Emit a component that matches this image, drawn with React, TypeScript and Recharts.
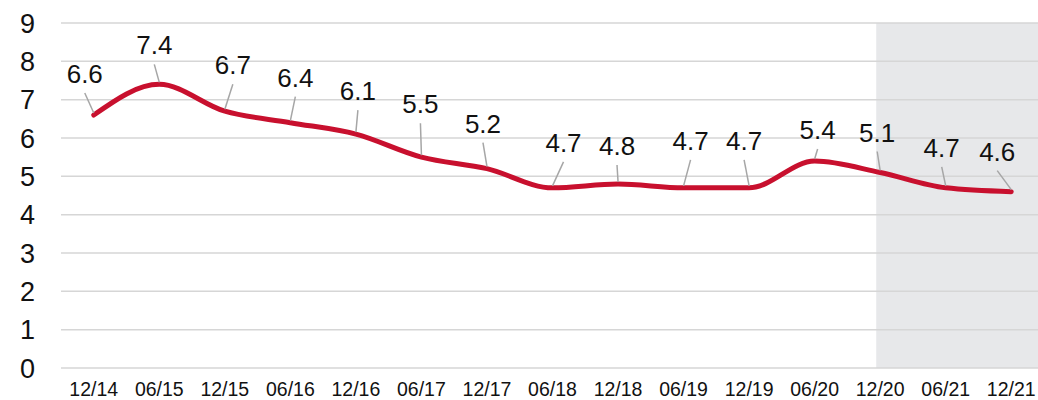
import React from 'react';
import {
  LineChart,
  Line,
  XAxis,
  YAxis,
  ReferenceArea,
  ReferenceLine,
} from 'recharts';

const periods = [
  '12/14', '06/15', '12/15', '06/16', '12/16', '06/17', '12/17', '06/18',
  '12/18', '06/19', '12/19', '06/20', '12/20', '06/21', '12/21',
];
const values = [6.6, 7.4, 6.7, 6.4, 6.1, 5.5, 5.2, 4.7, 4.8, 4.7, 4.7, 5.4, 5.1, 4.7, 4.6];
const yTicks = [0, 1, 2, 3, 4, 5, 6, 7, 8, 9];
const shadedFrom = '12/20';

// label nudges (px) relative to each point, so the callouts sit like the original
const labelDx = [-9, -5, 8, 5, 2, -1, -4, 11, -1, 7, -5, 3, -3, -4, -14];
const labelDy = [-41, -39, -46, -45, -43, -53, -45, -45, -38, -47, -47, -31, -40, -40, -40];

const data = periods.map((p, i) => ({ i, period: p, value: values[i] }));

const FONT = '"Liberation Sans", Arial, sans-serif';

const CalloutLabel = (props: any) => {
  const { x, y, value, index } = props;
  const lx = x + labelDx[index];
  const ly = y + labelDy[index];
  return (
    <g>
      <line x1={lx} y1={ly + 19} x2={x} y2={y - 2} stroke="#a6a6a6" strokeWidth={1.5} />
      <text
        x={lx}
        y={ly}
        textAnchor="middle"
        dominantBaseline="central"
        fontSize={26}
        fontFamily={FONT}
        fill="#111"
      >
        {value.toFixed(1)}
      </text>
    </g>
  );
};

export default function App() {
  const shadeStart = periods.indexOf(shadedFrom) - 0.06;
  return (
    <div style={{ position: 'absolute', left: 0, top: 0, width: 1038, height: 400, overflow: 'hidden', background: '#fff' }}>
      <LineChart
        width={1046}
        height={400}
        data={data}
        margin={{ top: 23, right: 2, left: 0, bottom: 0 }}
      >
        <ReferenceArea
          x1={shadeStart}
          x2={periods.length - 0.5}
          y1={0}
          y2={9}
          fill="#e7e8ea"
          fillOpacity={1}
          stroke="none"
          ifOverflow="visible"
        />
        {yTicks.map((t) => (
          <ReferenceLine key={t} y={t} stroke="#d6d6d6" strokeWidth={1.5} />
        ))}
        <XAxis
          dataKey="i"
          type="number"
          domain={[-0.5, periods.length - 0.5]}
          ticks={data.map((d) => d.i)}
          tickFormatter={(v: number) => periods[v]}
          interval={0}
          axisLine={false}
          tickLine={false}
          tickSize={0}
          tickMargin={14}
          height={32}
          tick={{ fontSize: 19.5, fontFamily: FONT, fill: '#111' }}
        />
        <YAxis
          domain={[0, 9]}
          ticks={yTicks}
          interval={0}
          axisLine={false}
          tickLine={false}
          tickSize={0}
          tickMargin={26}
          width={61}
          tick={{ fontSize: 27, fontFamily: FONT, fill: '#111' }}
        />
        <Line
          type="monotone"
          dataKey="value"
          stroke="#c8102e"
          strokeWidth={5}
          strokeLinecap="round"
          dot={false}
          activeDot={false}
          isAnimationActive={false}
          label={<CalloutLabel />}
        />
      </LineChart>
    </div>
  );
}
